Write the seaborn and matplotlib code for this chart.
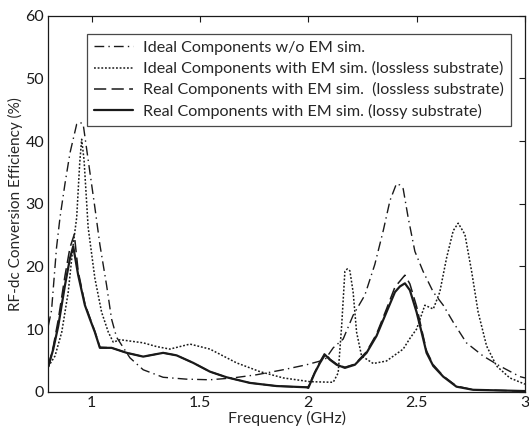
import numpy as np
import pandas as pd
import seaborn as sns
import matplotlib
matplotlib.use("Agg")
import matplotlib.pyplot as plt

# values (frequency in GHz, efficiency in %)
f_ideal = [0.80, 0.815, 0.838, 0.854, 0.877, 0.90, 0.931, 0.946, 0.961, 0.984, 1.015,
           1.038, 1.069, 1.092, 1.115, 1.177, 1.238, 1.33, 1.438, 1.546, 1.653, 1.761,
           1.884, 1.992, 2.077, 2.115, 2.161, 2.207, 2.261, 2.307, 2.346, 2.377, 2.407,
           2.422, 2.438, 2.461, 2.492, 2.53, 2.577, 2.623, 2.669, 2.73, 2.807, 2.884,
           2.977, 3.00]
e_ideal = [10.5, 13.0, 23.0, 27.8, 33.2, 38.1, 42.7, 43.0, 42.7, 37.0, 29.4,
           23.5, 17.0, 11.6, 8.7, 5.4, 3.5, 2.3, 2.0, 1.9, 2.2, 2.7,
           3.5, 4.3, 5.1, 7.0, 8.4, 12.2, 15.4, 20.3, 25.7, 30.5, 33.2,
           33.0, 32.4, 27.8, 22.4, 19.2, 15.9, 13.8, 11.1, 7.8, 5.7, 4.1,
           2.4, 2.2]

f_ideal_em = [0.80, 0.831, 0.862, 0.892, 0.915, 0.931, 0.945, 0.954, 0.965, 0.984, 1.015,
              1.046, 1.077, 1.10, 1.131, 1.238, 1.30, 1.361, 1.454, 1.546, 1.669, 1.777,
              1.884, 2.007, 2.115, 2.138, 2.154, 2.169, 2.18, 2.192, 2.207, 2.223, 2.246,
              2.30, 2.361, 2.438, 2.469, 2.50, 2.538, 2.577, 2.607, 2.638, 2.669, 2.692,
              2.723, 2.754, 2.784, 2.823, 2.869, 2.93, 3.00]
e_ideal_em = [4.0, 5.7, 9.5, 15.9, 23.5, 27.8, 36.5, 40.3, 37.0, 26.2, 18.1,
              12.7, 9.5, 7.9, 8.3, 7.8, 7.2, 6.8, 7.6, 6.8, 4.6, 3.2,
              2.2, 1.6, 1.5, 3.0, 10.5, 19.2, 19.6, 19.3, 15.9, 9.5, 5.7,
              4.5, 4.9, 6.8, 8.5, 10.0, 13.8, 13.2, 15.9, 21.3, 25.7, 26.9,
              25.1, 19.2, 12.7, 7.3, 4.1, 2.2, 1.2]

f_real_lossless = [0.80, 0.823, 0.846, 0.877, 0.90, 0.920, 0.938, 0.969, 0.992, 1.015,
                   1.038, 1.092, 1.162, 1.238, 1.33, 1.392, 1.469, 1.546, 1.623, 1.731,
                   1.854, 1.992, 2.00, 2.03, 2.054, 2.077, 2.10, 2.131, 2.169, 2.215,
                   2.269, 2.315, 2.361, 2.40, 2.446, 2.469, 2.50, 2.523, 2.546, 2.577,
                   2.623, 2.684, 2.761, 2.884, 3.00]
e_real_lossless = [4.0, 7.2, 11.5, 18.5, 23.0, 25.1, 19.2, 14.0, 11.8, 9.6,
                   7.1, 7.0, 6.2, 5.6, 6.2, 5.8, 4.6, 3.2, 2.3, 1.4,
                   0.9, 0.7, 0.8, 3.1, 4.8, 6.2, 5.2, 4.4, 3.9, 4.4,
                   6.4, 9.2, 13.2, 16.7, 18.6, 17.2, 13.6, 10.0, 6.5, 4.3,
                   2.5, 0.9, 0.3, 0.2, 0.1]

f_real_lossy = [0.80, 0.823, 0.846, 0.877, 0.90, 0.915, 0.938, 0.969, 0.992, 1.015,
                1.038, 1.092, 1.162, 1.238, 1.33, 1.392, 1.469, 1.546, 1.623, 1.731,
                1.854, 1.992, 2.00, 2.03, 2.054, 2.077, 2.10, 2.131, 2.169, 2.215,
                2.269, 2.315, 2.361, 2.40, 2.423, 2.446, 2.469, 2.50, 2.523, 2.546,
                2.577, 2.623, 2.684, 2.761, 2.884, 3.00]
e_real_lossy = [4.0, 6.8, 10.5, 17.0, 21.3, 23.2, 18.6, 13.8, 11.6, 9.5,
                7.0, 7.0, 6.2, 5.6, 6.2, 5.8, 4.6, 3.2, 2.3, 1.4,
                0.9, 0.7, 0.6, 3.0, 4.6, 5.9, 5.1, 4.3, 3.8, 4.3,
                6.2, 8.9, 12.7, 15.9, 16.8, 17.3, 16.2, 12.7, 9.5, 6.2,
                4.1, 2.4, 0.8, 0.3, 0.2, 0.1]

labels = ["Ideal Components w/o EM sim.",
          "Ideal Components with EM sim. (lossless substrate)",
          "Real Components with EM sim.  (lossless substrate)",
          "Real Components with EM sim. (lossy substrate)"]

frames = []
for lab, f, e in zip(labels,
                     [f_ideal, f_ideal_em, f_real_lossless, f_real_lossy],
                     [e_ideal, e_ideal_em, e_real_lossless, e_real_lossy]):
    frames.append(pd.DataFrame({"freq": f, "eff": e, "case": lab}))
df = pd.concat(frames, ignore_index=True)

sns.set_style("white")
plt.rcParams["font.family"] = ["Lato", "DejaVu Sans"]

fig = plt.figure(figsize=(5.29, 4.34), dpi=100)
ax = fig.add_axes([0.0913, 0.0975, 0.901, 0.866])

styles = {
    labels[0]: dict(ls=(0, (7, 3, 1, 3)), lw=1.0),
    labels[1]: dict(ls=(0, (1.2, 1.2)), lw=1.1),
    labels[2]: dict(ls=(0, (8, 3.5)), lw=1.1),
    labels[3]: dict(ls="-", lw=1.6),
}

for lab in labels:
    sub = df[df["case"] == lab]
    sns.lineplot(data=sub, x="freq", y="eff", ax=ax, color="#1a1a1a",
                 linestyle=styles[lab]["ls"], linewidth=styles[lab]["lw"],
                 label=lab, sort=False, estimator=None)

ax.set_xlim(0.8, 3.0)
ax.set_ylim(0, 60)
ax.set_xticks([1, 1.5, 2, 2.5, 3])
ax.set_xticklabels(["1", "1.5", "2", "2.5", "3"])
ax.set_yticks(range(0, 61, 10))
ax.tick_params(direction="in", top=True, right=True, length=4, labelsize=11.5,
               colors="#1a1a1a", width=0.8, pad=3)
for s in ax.spines.values():
    s.set_color("#1a1a1a")
    s.set_linewidth(0.9)

ax.set_xlabel("Frequency (GHz)", fontsize=11.5, labelpad=1)
ax.set_ylabel("RF-dc Conversion Efficiency (%)", fontsize=11, labelpad=2)

leg = ax.legend(loc="upper right", bbox_to_anchor=(0.97, 0.953), fontsize=11.6,
                frameon=True, fancybox=False, handlelength=2.4, borderpad=0.45,
                labelspacing=0.38, handletextpad=0.6, borderaxespad=0)
leg.get_frame().set_edgecolor("#1a1a1a")
leg.get_frame().set_linewidth(0.9)

fig.savefig("out.png", dpi=100)
